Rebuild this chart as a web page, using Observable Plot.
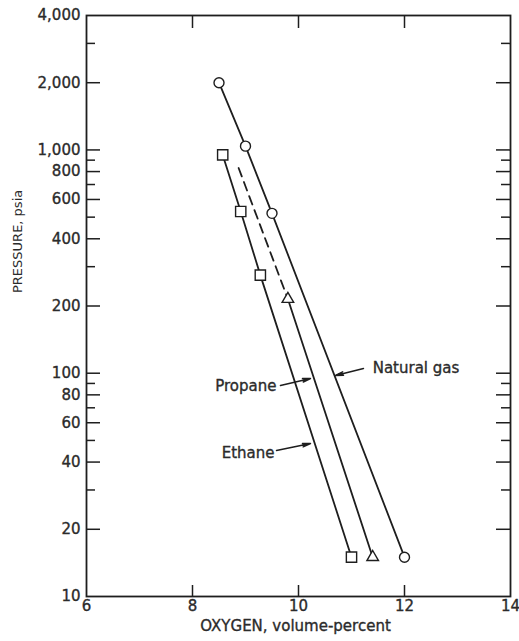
<!DOCTYPE html>
<html><head><meta charset="utf-8">
<script src="https://cdn.jsdelivr.net/npm/d3@7"></script>
<script src="https://cdn.jsdelivr.net/npm/@observablehq/plot@0.6"></script>
<style>body{margin:0;background:#fff}</style>
</head><body><div id="chart"></div>
<script>
// Natural gas (circles)
const naturalGasO2 = [8.5, 9.0, 9.5, 12.0];
const naturalGasP = [2000, 1040, 520, 15];
// Ethane (squares)
const ethaneO2 = [8.57, 8.91, 9.28, 11.0];
const ethaneP = [950, 530, 275, 15];
// Propane (triangles); dashed upper extension
const propaneDashO2 = [8.87, 9.8];
const propaneDashP = [830, 215];
const propaneO2 = [9.8, 11.4];
const propaneP = [215, 15];

// axes
const yTickLabels = [4000, 2000, 1000, 800, 600, 400, 200, 100, 80, 60, 40, 20, 10];
const yMajorTicks = [2000, 1000, 800, 600, 400, 200, 100, 80, 60, 40, 20];
const yMinorTicks = [3000, 900, 700, 500, 300, 90, 70, 50, 30];
const xTickLabels = [6, 8, 10, 12, 14];
const xTicks = [8, 10, 12];

// annotations
const labelNames = ["Natural gas", "Propane", "Ethane"];
const labelX = [11.40, 9.585, 9.547];
const labelY = [105, 87.2, 43.8];
const labelAnchor = ["start", "end", "end"];
const leaderX1 = [11.226, 9.66, 9.585];
const leaderY1 = [105, 88.1, 45.1];
const leaderX2 = [10.698, 10.226, 10.226];
const leaderY2 = [97.7, 94.7, 48.4];

const zip = (xs, ys) => xs.map((x, i) => ({x, y: ys[i]}));
const natural = zip(naturalGasO2, naturalGasP);
const ethane = zip(ethaneO2, ethaneP);
const propaneDash = zip(propaneDashO2, propaneDashP);
const propane = zip(propaneO2, propaneP);
const labels = labelNames.map((t, i) => ({t, x: labelX[i], y: labelY[i], a: labelAnchor[i]}));
const leaders = labelNames.map((t, i) => ({x1: leaderX1[i], y1: leaderY1[i], x2: leaderX2[i], y2: leaderY2[i]}));

const W = 519, H = 641, mL = 86, mR = 9, mT = 15, mB = 45;
const pw = W - mL - mR, ph = H - mT - mB;
const ink = "#1e1e1e";
const txt = "#2b2b2b";
const bold = {fill: txt, stroke: txt, strokeWidth: 0.35};

const chart = Plot.plot({
  width: W, height: H,
  marginLeft: mL, marginRight: mR, marginTop: mT, marginBottom: mB,
  style: {fontFamily: "DejaVu Sans", fontSize: "15px", background: "#fff"},
  x: {domain: [6, 14], axis: null},
  y: {type: "log", domain: [10, 4000], axis: null},
  marks: [
    // inward ticks
    Plot.tickY(yMajorTicks, {y: d => d, insetRight: pw - 14, stroke: ink, strokeWidth: 1.5}),
    Plot.tickY(yMinorTicks, {y: d => d, insetRight: pw - 9, stroke: ink, strokeWidth: 1.5}),
    Plot.tickY(yMajorTicks, {y: d => d, insetLeft: pw - 14, stroke: ink, strokeWidth: 1.5}),
    Plot.tickY(yMinorTicks, {y: d => d, insetLeft: pw - 9, stroke: ink, strokeWidth: 1.5}),
    Plot.tickX(xTicks, {x: d => d, insetBottom: ph - 13, stroke: ink, strokeWidth: 1.5}),
    Plot.tickX(xTicks, {x: d => d, insetTop: ph - 11, stroke: ink, strokeWidth: 1.5}),
    Plot.frame({stroke: ink, strokeWidth: 1.8}),
    // tick labels
    Plot.text(yTickLabels, {y: d => d, frameAnchor: "left", dx: -6, textAnchor: "end",
      text: d => d3.format(",")(d), ...bold, fontSize: 15, style: "letter-spacing:0.7px"}),
    Plot.text(xTickLabels, {x: d => d, frameAnchor: "bottom", dy: 14, text: d => String(d), ...bold, fontSize: 15}),
    // axis titles
    Plot.text(["OXYGEN, volume-percent"], {frameAnchor: "bottom", dy: 34, dx: -3, text: d => d, ...bold, fontSize: 15}),
    Plot.text(["PRESSURE, psia"], {frameAnchor: "left", dx: -69, dy: -13, rotate: -90, text: d => d, fill: txt, fontSize: 13, style: "letter-spacing:0.5px"}),
    // curves
    Plot.line(natural, {x: "x", y: "y", stroke: ink, strokeWidth: 1.8}),
    Plot.line(ethane, {x: "x", y: "y", stroke: ink, strokeWidth: 1.8}),
    Plot.line(propane, {x: "x", y: "y", stroke: ink, strokeWidth: 1.8}),
    Plot.line(propaneDash, {x: "x", y: "y", stroke: ink, strokeWidth: 1.8, strokeDasharray: "9,6"}),
    // markers
    Plot.dot(natural, {x: "x", y: "y", r: 5, symbol: "circle", fill: "#fff", stroke: ink, strokeWidth: 1.4}),
    Plot.dot(ethane, {x: "x", y: "y", r: 5.8, symbol: "square", fill: "#fff", stroke: ink, strokeWidth: 1.4}),
    Plot.dot(propane, {x: "x", y: "y", r: 4.3, symbol: "triangle", fill: "#fff", stroke: ink, strokeWidth: 1.4}),
    // annotations
    Plot.arrow(leaders, {x1: "x1", y1: "y1", x2: "x2", y2: "y2", stroke: ink, strokeWidth: 1.5, headLength: 8, headAngle: 25}),
    Plot.text(labels.filter(d => d.a === "start"), {x: "x", y: "y", text: "t", textAnchor: "start", ...bold, fontSize: 15}),
    Plot.text(labels.filter(d => d.a === "end"), {x: "x", y: "y", text: "t", textAnchor: "end", ...bold, fontSize: 15})
  ]
});
document.getElementById("chart").appendChild(chart);
</script>
</body></html>
